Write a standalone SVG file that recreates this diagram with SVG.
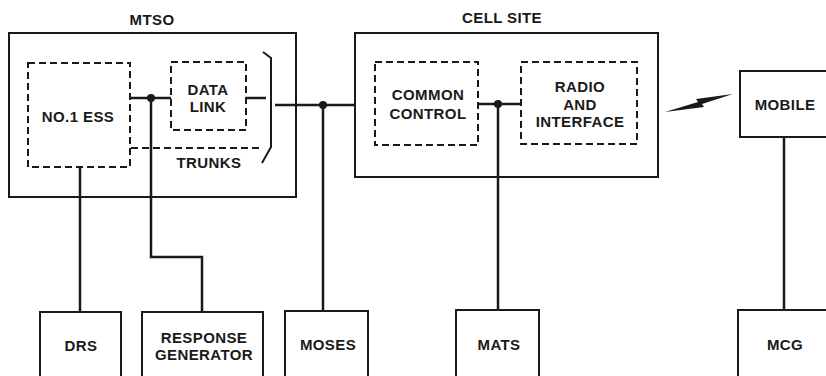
<svg xmlns="http://www.w3.org/2000/svg" width="826" height="376" viewBox="0 0 826 376">
<style>
.box{fill:none;stroke:#1a1a1a;stroke-width:2}
.dash{fill:none;stroke:#1a1a1a;stroke-width:2;stroke-dasharray:7,4}
.ln{fill:none;stroke:#1a1a1a;stroke-width:2.5}
.dot{fill:#1a1a1a}
text{font-family:"Liberation Sans",Arial,sans-serif;font-size:15px;font-weight:bold;fill:#1a1a1a;text-anchor:middle;letter-spacing:0.4px}
</style>
<rect width="826" height="376" fill="#fff"/>
<g id="mtso">
<rect class="box" x="9" y="33" width="287" height="164"/>
<text x="152" y="25">MTSO</text>
<path class="ln" d="M263,52 L271,58 L271,147 L262,163" style="stroke-width:2"/>
<line class="dash" x1="131" y1="148" x2="262" y2="148"/>
<text x="209" y="168">TRUNKS</text>
</g>
<g id="ess">
<rect class="dash" x="28" y="63" width="102" height="104"/>
<text x="78" y="122">NO.1 ESS</text>
</g>
<g id="datalink">
<rect class="dash" x="171" y="62" width="75" height="68"/>
<text x="208" y="95">DATA</text>
<text x="208" y="112">LINK</text>
</g>
<g id="cellsite">
<rect class="box" x="355" y="33" width="303" height="144"/>
<text x="502" y="23">CELL SITE</text>
</g>
<g id="common">
<rect class="dash" x="375" y="62" width="103" height="83"/>
<text x="428" y="100">COMMON</text>
<text x="428" y="119">CONTROL</text>
</g>
<g id="radio">
<rect class="dash" x="521" y="62" width="116" height="82"/>
<text x="580" y="92">RADIO</text>
<text x="580" y="110">AND</text>
<text x="580" y="127">INTERFACE</text>
</g>
<g id="mobile">
<rect class="box" x="740" y="71" width="92" height="66"/>
<text x="785" y="110">MOBILE</text>
</g>
<g id="drs">
<rect class="box" x="40" y="312" width="81" height="70"/>
<text x="81" y="351">DRS</text>
</g>
<g id="response">
<rect class="box" x="142" y="312" width="121" height="70"/>
<text x="204" y="343">RESPONSE</text>
<text x="204" y="360">GENERATOR</text>
</g>
<g id="moses">
<rect class="box" x="285" y="311" width="83" height="70"/>
<text x="328" y="350">MOSES</text>
</g>
<g id="mats">
<rect class="box" x="456" y="310" width="83" height="70"/>
<text x="499" y="350">MATS</text>
</g>
<g id="mcg">
<rect class="box" x="738" y="310" width="94" height="70"/>
<text x="785" y="350">MCG</text>
</g>
<g id="connectors">
<polyline class="ln" points="130,98 171,98"/>
<polyline class="ln" points="151,98 151,257 202,257 202,312"/>
<polyline class="ln" points="80,167 80,312"/>
<polyline class="ln" points="246,98 266,98"/>
<polyline class="ln" points="275,105 355,105"/>
<polyline class="ln" points="323,105 323,311"/>
<polyline class="ln" points="478,104 521,104"/>
<polyline class="ln" points="498,104 498,310"/>
<polyline class="ln" points="784,137 784,310"/>
<circle class="dot" cx="151" cy="98" r="4"/>
<circle class="dot" cx="323" cy="105" r="4"/>
<circle class="dot" cx="498" cy="104" r="4"/>
<polygon class="dot" points="665,112 698,102 696,99 733,94 702,104 704,107"/>
</g>
</svg>
